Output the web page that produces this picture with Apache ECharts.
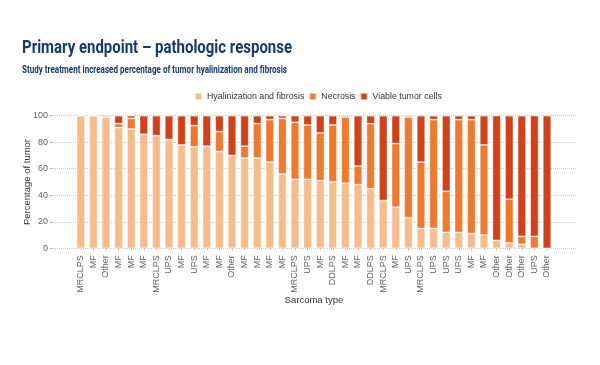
<!DOCTYPE html>
<html>
<head>
<meta charset="utf-8">
<script src="https://cdn.jsdelivr.net/npm/echarts@6/dist/echarts.min.js"></script>
<style>
html,body{margin:0;padding:0;background:#fff;}
#chart{width:600px;height:365px;}
</style>
</head>
<body>
<div id="chart"></div>
<script>
const categories = ["MRCLPS","MF","Other","MF","MF","MF","MRCLPS","UPS","MF","UPS","MF","MF","Other","MF","MF","MF","MF","MRCLPS","UPS","MF","DDLPS","MF","MF","DDLPS","MRCLPS","MF","UPS","MRCLPS","UPS","UPS","UPS","MF","MF","Other","Other","Other","UPS","Other"];
const hyalinization = [100,100,99,91,90,86,85,82,78,76.5,77,73,70,68,68,65,56,52,52,51,50,49,48,45,36,31,23,15,15,12,12,11,10,6,4,3,0,0];
const necrosis = [0,0,0,3,8,0,0,0,0,16,0,15,0,9,26,32,42,43,41,36,43,50,14,49,0,48,76,50,82,31,85,86,68,0,33,6,9,0];
const viable = [0,0,1,6,2,14,15,18,22,7.5,23,12,30,23,6,3,2,5,7,13,7,1,38,6,64,21,1,35,3,57,3,3,22,94,63,91,91,100];
const yTicks = [0,20,40,60,80,100];
const seriesNames = ["Hyalinization and fibrosis","Necrosis","Viable tumor cells"];
const titleText = 'Primary endpoint \u2013 pathologic response';
const subtitleText = 'Study treatment increased percentage of tumor hyalinization and fibrosis';

const colors = ["#F8BC8B","#EE7A2F","#D0431A"];
const font = "'Liberation Sans',Arial,sans-serif";
const gridTop = 115.7, gridHeight = 132.6;
const titleFontStr = "bold 18px Roboto, sans-serif";
const subFontStr = "bold 10.5px Roboto, sans-serif";

// condensed look: measure natural width and squeeze horizontally to the reference width
const ctx = document.createElement('canvas').getContext('2d');
function squeeze(text, f, target) { ctx.font = f; return target / ctx.measureText(text).width; }

const chart = echarts.init(document.getElementById('chart'), null, {renderer:'canvas'});
const barStyle = (i) => ({color: colors[i], borderColor: 'rgba(255,255,255,0.55)', borderWidth: 0.8});
chart.setOption({
  animation: false,
  backgroundColor: '#fff',
  graphic: [
    {type: 'text', x: 22, y: 57, scaleX: squeeze(titleText, titleFontStr, 270),
     style: {text: titleText, font: titleFontStr, fill: '#173A69', verticalAlign: 'bottom'}},
    {type: 'text', x: 22, y: 76, scaleX: squeeze(subtitleText, subFontStr, 265),
     style: {text: subtitleText, font: subFontStr, fill: '#173A69', verticalAlign: 'bottom'}}
  ],
  legend: {
    data: seriesNames, left: 189, top: 87, icon: 'rect', itemWidth: 7, itemHeight: 7, itemGap: 4,
    textStyle: {fontFamily: font, fontSize: 8.8, color: '#333'}
  },
  grid: [
    {left: 53, right: 24, top: gridTop, height: gridHeight},
    {left: 74.5, right: 46.7, top: gridTop, height: gridHeight}
  ],
  xAxis: [
    {type: 'value', gridIndex: 0, show: false, min: 0, max: 1},
    {type: 'category', gridIndex: 1, data: categories, offset: 3,
     axisLine: {show: false},
     axisTick: {show: true, alignWithLabel: true, length: 2, lineStyle: {color: '#bbb'}},
     axisLabel: {rotate: 90, interval: 0, fontFamily: font, fontSize: 9, color: '#666', margin: 4},
     name: 'Sarcoma type', nameLocation: 'middle', nameGap: 44, nameMoveOverlap: false,
     nameTextStyle: {fontFamily: font, fontSize: 9.5, color: '#333'}}
  ],
  yAxis: [
    {type: 'value', gridIndex: 0, min: 0, max: 100, interval: 20,
     axisLine: {show: false},
     axisTick: {show: true, length: 3, lineStyle: {color: '#bbb'}},
     axisLabel: {fontFamily: font, fontSize: 9, color: '#666', margin: 5,
       formatter: v => yTicks.includes(v) ? String(v) : ''},
     splitLine: {show: true, lineStyle: {type: 'dotted', color: '#ccc', width: 1}},
     name: 'Percentage of tumor', nameLocation: 'middle', nameGap: 21, nameMoveOverlap: false,
     nameTextStyle: {fontFamily: font, fontSize: 9.5, color: '#333'}},
    {type: 'value', gridIndex: 1, min: 0, max: 100, show: false}
  ],
  series: [
    {name: seriesNames[0], type: 'bar', stack: 's', xAxisIndex: 1, yAxisIndex: 1, barWidth: 8.4, data: hyalinization, itemStyle: barStyle(0)},
    {name: seriesNames[1], type: 'bar', stack: 's', xAxisIndex: 1, yAxisIndex: 1, barWidth: 8.4, data: necrosis, itemStyle: barStyle(1)},
    {name: seriesNames[2], type: 'bar', stack: 's', xAxisIndex: 1, yAxisIndex: 1, barWidth: 8.4, data: viable, itemStyle: barStyle(2)}
  ]
});
</script>
</body>
</html>
